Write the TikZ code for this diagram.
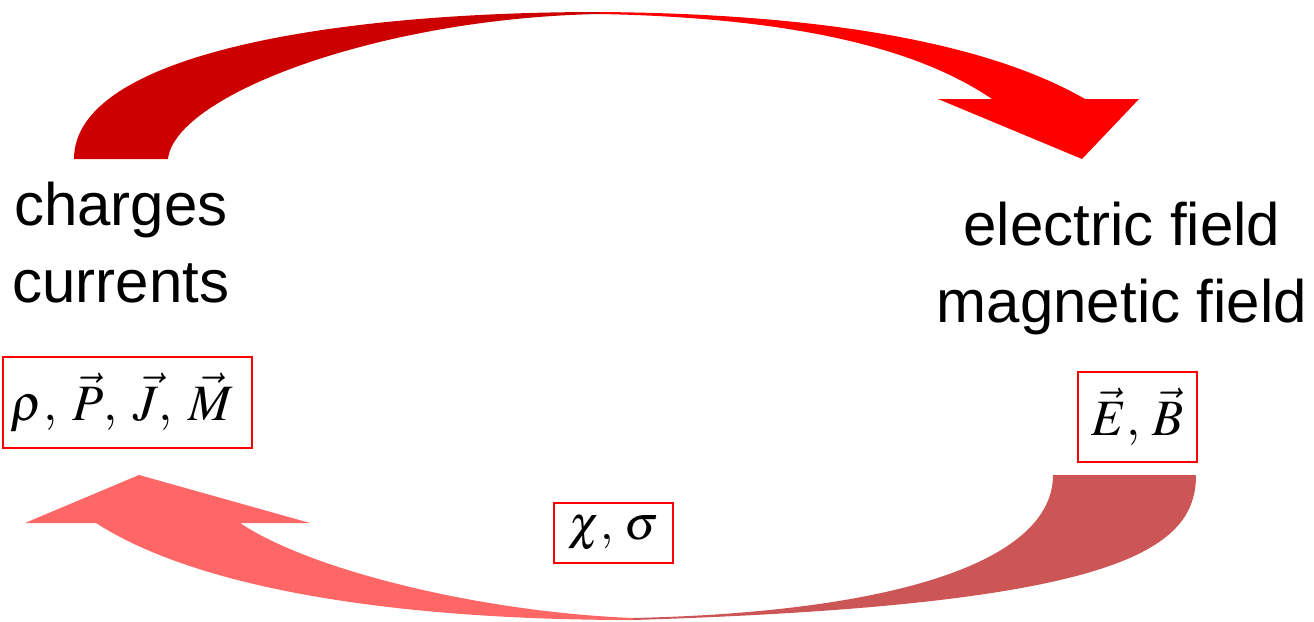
\documentclass[tikz,border=0pt]{standalone}
\usepackage{mathptmx}
\usepackage{fontspec}
\setmainfont{Liberation Sans}
\definecolor{LoopDark}{HTML}{CC0000}
\definecolor{LoopBright}{HTML}{FF0000}
\definecolor{LoopBrown}{HTML}{CC5555}
\definecolor{LoopLight}{HTML}{FF6666}

\begin{document}
\begin{tikzpicture}[
    x=1pt, y=-1pt,
    qty/.style={
      draw=LoopBright,
      line width=1.8pt,
      inner sep=0pt,
      font=\fontsize{51}{60}\selectfont
    },
    lbl/.style={
      inner sep=0pt,
      align=center,
      font=\fontsize{60}{77}\selectfont
    }
  ]
  \useasboundingbox (0,0) rectangle (1314,621);

  % Upper arrow: sources to fields
  \fill[LoopDark] (74,159) .. controls (74,55) and (330,12) .. (600,12)
    -- (600,14) .. controls (380,18) and (175,95) .. (168,159) -- cycle;
  \fill[LoopBright] (600,12) .. controls (850,14) and (1000,50) .. (1085,99)
    -- (1139,99) -- (1082,159) -- (938,99) -- (992,99)
    .. controls (920,50) and (800,18) .. (600,14) -- cycle;

  % Lower arrow: fields back to sources
  \fill[LoopBrown] (1196,475) .. controls (1196,550) and (1120,605) .. (633,620)
    -- (633,618) .. controls (900,612) and (1053,560) .. (1053,475) -- cycle;
  \fill[LoopLight] (633,620) .. controls (400,620) and (200,590) .. (96,523)
    -- (25,523) -- (139,475) -- (310,523) -- (240,523)
    .. controls (310,570) and (480,612) .. (633,618) -- cycle;

  % Labels
  \node[lbl, anchor=north] (src) at (121,182) {charges\\currents};
  \node[lbl, anchor=north] (fld) at (1122,202) {electric field\\magnetic field};

  % Quantities
  \node[qty, minimum width=249pt, minimum height=91pt] (rho) at (127.5,402.5)
    {$\rho,\mkern3.5mu\vec{P},\mkern3.5mu\vec{J},\mkern3.5mu\vec{M}\mkern4mu$};
  \node[qty, minimum width=119pt, minimum height=90pt] (eb) at (1137.5,417)
    {$\vec{E},\mkern2mu\vec{B}$};
  \node[qty, minimum width=119pt, minimum height=60pt,
        font=\fontsize{48}{55}\selectfont] (chi) at (613.5,533)
    {$\chi,\mkern2mu\sigma$};

\end{tikzpicture}
\end{document}
